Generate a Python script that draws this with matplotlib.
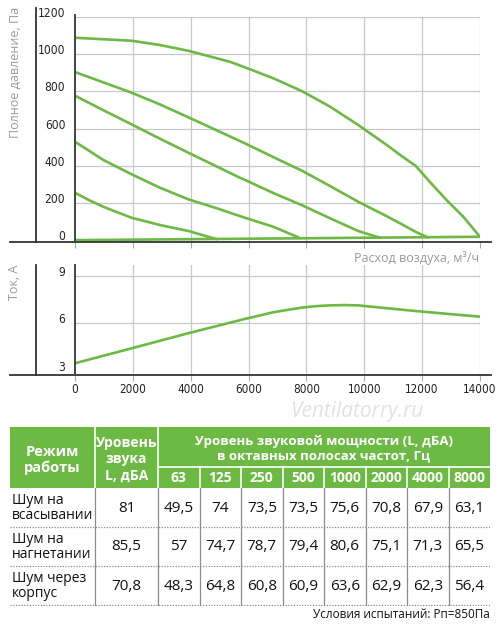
import matplotlib
matplotlib.use('Agg')
import matplotlib.pyplot as plt
import matplotlib.transforms as mtransforms
from matplotlib import font_manager
from matplotlib.lines import Line2D
from matplotlib.patches import Rectangle

# --- pressure curves: flow (m3/h) vs total pressure (Pa)
c1_q = [0, 1960, 2940, 3920, 5360, 5880, 6860, 7840, 8820, 9790, 10780, 11240, 11780, 12310, 12850, 13420, 14000]
c1_p = [1087, 1071, 1048, 1017, 958, 928, 869, 801, 717, 619, 511, 458, 399, 306, 215, 127, 19]
c2_q = [0, 1960, 2940, 3920, 5700, 5880, 6850, 7840, 8820, 9790, 10780, 11240, 11780, 12210]
c2_p = [903, 792, 729, 660, 533, 520, 447, 374, 291, 207, 129, 91, 45, 15]
c3_q = [0, 970, 1960, 2940, 3920, 5700, 5880, 6850, 7840, 8820, 9790, 10540]
c3_p = [776, 699, 622, 545, 470, 336, 324, 254, 189, 118, 50, 14]
c4_q = [0, 980, 1960, 2940, 3920, 4900, 5700, 6850, 7780]
c4_p = [529, 431, 354, 282, 220, 172, 130, 73, 12]
c5_q = [0, 520, 980, 1440, 1960, 2940, 3920, 4900]
c5_p = [255, 213, 180, 152, 121, 82, 50, 6]
c6_q = [0, 7840, 14000]
c6_p = [1, 11, 19]

# --- current curve: flow (m3/h) vs current (A)
cur_q = [0, 1960, 3920, 5880, 6860, 7840, 8330, 8820, 9300, 9790, 10780, 11750, 12850, 14000]
cur_a = [3.49, 4.43, 5.38, 6.28, 6.70, 6.99, 7.08, 7.13, 7.15, 7.13, 6.95, 6.78, 6.60, 6.42]

x_ticks = [0, 2000, 4000, 6000, 8000, 10000, 12000, 14000]
p_ticks = [0, 200, 400, 600, 800, 1000, 1200]
a_ticks = [3, 6, 9]

# --- noise table
modes = ['Шум на\nвсасывании', 'Шум на\nнагнетании', 'Шум через\nкорпус']
total_level = [81, 85.5, 70.8]
freqs = ['63', '125', '250', '500', '1000', '2000', '4000', '8000']
levels = [
    [49.5, 74, 73.5, 73.5, 75.6, 70.8, 67.9, 63.1],
    [57, 74.7, 78.7, 79.4, 80.6, 75.1, 71.3, 65.5],
    [48.3, 64.8, 60.8, 60.9, 63.6, 62.9, 62.3, 56.4],
]

GREEN = '#6cb944'
GRID = '#c8c8c8'
AXC = '#333333'
LBL = '#9a9a9a'
SANS = ['Open Sans', 'DejaVu Sans']

installed = {f.name for f in font_manager.fontManager.ttflist}
if 'Liberation Sans Narrow' in installed:
    NARROW, NSTRETCH = ['Liberation Sans Narrow', 'DejaVu Sans'], 'normal'
else:
    NARROW, NSTRETCH = ['DejaVu Sans'], 'condensed'

W, H = 500, 626
fig = plt.figure(figsize=(W / 100, H / 100), dpi=100)
fig.patch.set_facecolor('white')


def fx(px):
    return px / W


def fy(py):
    return 1 - py / H


def fline(x0, x1, y0, y1, **kw):
    fig.add_artist(Line2D([fx(x0), fx(x1)], [fy(y0), fy(y1)], transform=fig.transFigure, **kw))


lab_up = mtransforms.ScaledTranslation(0, 3.6 / 72, fig.dpi_scale_trans)


def style_axes(ax):
    for s in ['top', 'right', 'bottom', 'left']:
        ax.spines[s].set_visible(False)
    ax.grid(True, color=GRID, linewidth=0.9)
    ax.set_axisbelow(True)
    ax.tick_params(axis='y', length=0, pad=7, labelsize=8.6, labelcolor='#222222')
    ax.tick_params(axis='x', length=4, color='#aaaaaa', direction='out', pad=2,
                   labelsize=8.4, labelcolor='#222222')
    for lab in ax.get_yticklabels():
        lab.set_family(NARROW)
        lab.set_stretch(NSTRETCH)
        lab.set_transform(lab.get_transform() + lab_up)
    for lab in ax.get_xticklabels():
        lab.set_family(NARROW)
        lab.set_stretch(NSTRETCH)


# --- pressure chart
ax1 = fig.add_axes([fx(75), fy(242), fx(480) - fx(75), (242 - 16.7) / H])
for q, p in [(c1_q, c1_p), (c2_q, c2_p), (c3_q, c3_p), (c4_q, c4_p), (c5_q, c5_p), (c6_q, c6_p)]:
    ax1.plot(q, p, color=GREEN, linewidth=1.9, solid_capstyle='round', solid_joinstyle='round')
ax1.set_xlim(0, 14000)
ax1.set_ylim(-9, 1200)
ax1.set_xticks(x_ticks)
ax1.set_xticklabels([])
ax1.set_yticks(p_ticks)
ax1.set_yticklabels([str(v) for v in p_ticks])
style_axes(ax1)
ax1.yaxis.get_gridlines()[0].set_visible(False)
ax1.xaxis.get_gridlines()[0].set_visible(False)

# --- current chart
ax2 = fig.add_axes([fx(75), fy(375), fx(480) - fx(75), (375 - 265) / H])
ax2.plot(cur_q, cur_a, color=GREEN, linewidth=1.9, solid_capstyle='round', solid_joinstyle='round')
ax2.set_xlim(0, 14000)
ax2.set_ylim(2.75, 9.67)
ax2.set_xticks(x_ticks)
ax2.set_xticklabels([str(v) for v in x_ticks])
ax2.set_yticks(a_ticks)
ax2.set_yticklabels([str(v) for v in a_ticks])
style_axes(ax2)
ax2.yaxis.get_gridlines()[0].set_visible(False)
ax2.xaxis.get_gridlines()[0].set_visible(False)

# axis lines (some run past the plotting areas)
fline(10, 491, 242, 242, color=AXC, linewidth=1.3)
fline(10, 491, 375, 375, color=AXC, linewidth=1.3)
fline(36, 36, 8, 242, color=AXC, linewidth=1.3)
fline(36, 36, 265, 375, color=AXC, linewidth=1.3)
fline(75, 75, 15, 242, color='#444444', linewidth=1.4)
fline(75, 75, 265, 375, color='#444444', linewidth=1.4)

fig.text(fx(15), fy(7), 'Полное давление, Па', rotation=90, ha='center', va='top',
         fontsize=9, color=LBL, family=SANS)
fig.text(fx(15), fy(265), 'Ток, А', rotation=90, ha='center', va='top',
         fontsize=9, color=LBL, family=SANS)
fig.text(fx(479), fy(258), 'Расход воздуха, м³/ч', ha='right', va='center',
         fontsize=9, color=LBL, family=SANS)
fig.text(fx(357), fy(412), 'Ventilatorry.ru', ha='center', va='center', fontsize=15,
         style='italic', color='#e2e2e2', family=SANS)

# --- table
ax3 = fig.add_axes([fx(10), fy(606), fx(490) - fx(10), (606 - 427) / H])
ax3.set_xlim(10, 490)
ax3.set_ylim(606, 427)
ax3.axis('off')

col_w = [85, 63] + [41.5] * len(freqs)
edges = [10]
for w in col_w:
    edges.append(edges[-1] + w)
head_top, head_mid, head_bot = 427, 467, 488
row_h = 39
row_tops = [head_bot + i * row_h for i in range(len(modes) + 1)]

ax3.add_patch(Rectangle((10, head_top), 480, head_bot - head_top, facecolor=GREEN,
                        edgecolor='none'))
for x in edges[1:3]:
    ax3.plot([x, x], [head_top, head_bot], color='white', linewidth=1.2)
ax3.plot([edges[2], 490], [head_mid, head_mid], color='white', linewidth=1.2)
for x in edges[3:-1]:
    ax3.plot([x, x], [head_mid, head_bot], color='white', linewidth=1.2)
for x in edges[1:-1]:
    ax3.plot([x, x], [head_bot, row_tops[-1]], color='#8c8c8c', linewidth=0.9)
for y in row_tops[1:]:
    ax3.plot([10, 490], [y, y], color='#8c8c8c', linewidth=0.9, linestyle=(0, (1, 1.2)))

hdr = dict(color='white', fontweight='bold', family=SANS, ha='center', va='center')
ax3.text((edges[0] + edges[1]) / 2, 460, 'Режим\nработы', fontsize=10.5, linespacing=1.15, **hdr)
ax3.text((edges[1] + edges[2]) / 2, 459.5, 'Уровень\nзвука\nL, дБА', fontsize=10,
         linespacing=1.2, **hdr)
ax3.text((edges[2] + edges[-1]) / 2, 448.5,
         'Уровень звуковой мощности (L, дБА)\nв октавных полосах частот, Гц',
         fontsize=9.5, linespacing=1.15, **hdr)
for i, f in enumerate(freqs):
    ax3.text((edges[2 + i] + edges[3 + i]) / 2, 478, f, fontsize=10, **hdr)


def fmt(v):
    return f'{v:g}'.replace('.', ',')


for r, mode in enumerate(modes):
    yc = (row_tops[r] + row_tops[r + 1]) / 2 + 0.5
    ax3.text(12, yc, mode, ha='left', va='center', fontsize=10, linespacing=1.0,
             family=SANS, color='#111111')
    ax3.text((edges[1] + edges[2]) / 2, yc, fmt(total_level[r]), ha='center', va='center',
             fontsize=11, family=SANS, color='#111111')
    for c, v in enumerate(levels[r]):
        ax3.text((edges[2 + c] + edges[3 + c]) / 2, yc, fmt(v), ha='center', va='center',
                 fontsize=11, family=SANS, color='#111111')

fig.text(fx(490), fy(615), 'Условия испытаний: Рп=850Па', ha='right', va='center',
         fontsize=8.5, color='#111111', family=SANS)

fig.savefig('out.png', dpi=100)
